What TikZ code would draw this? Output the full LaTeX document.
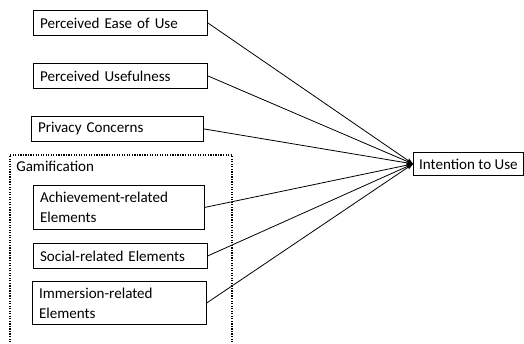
\documentclass[tikz,border=0pt]{standalone}
\usepackage{fontspec}
\setmainfont{Carlito}
\usetikzlibrary{arrows.meta}

\tikzset{
  box/.style={draw, line width=0.6pt, anchor=north west, align=left, inner xsep=5pt, inner ysep=0pt,
    text width=#1, font=\fontsize{11.3pt}{15pt}\selectfont},
  target/.style={draw, line width=0.6pt, anchor=north west, inner xsep=2pt, inner ysep=0pt,
    font=\fontsize{11.3pt}{15pt}\selectfont},
  link/.style={line width=0.6pt, -{Stealth[length=5pt,width=3.5pt]}}
}

\begin{document}
\begin{tikzpicture}[x=0.75pt,y=-0.75pt]
\path[use as bounding box, clip] (0,0) rectangle (524,343);
\node[box=120.5pt, minimum height=18.75pt] (peou) at (33,10) {Perceived Ease of Use};
\node[box=120.5pt, minimum height=18.75pt] (pu) at (33,63) {Perceived Usefulness};
\node[box=119pt, minimum height=18.75pt] (pc) at (31,116) {Privacy Concerns};
\draw[densely dotted, line width=0.9pt] (10,360) -- (10,155) -- (232,155) -- (232,360);
\node[anchor=north west, inner sep=0pt, font=\fontsize{11.3pt}{15pt}\selectfont] (gam) at (16,161) {Gamification};
\node[box=118.25pt, minimum height=33pt] (are) at (33,185) {Achievement-related\\Elements};
\node[box=120.5pt, minimum height=18.75pt] (sre) at (33,243) {Social-related Elements};
\node[box=120.5pt, minimum height=32.25pt] (ire) at (32,281) {Immersion-related\\Elements};
\node[target, minimum width=82.5pt, minimum height=17.25pt] (itu) at (413,152) {Intention to Use};
\foreach \n in {peou,pu,pc,are,sre,ire}
  \draw[link] (\n.east) -- (itu.west);
\end{tikzpicture}
\end{document}
